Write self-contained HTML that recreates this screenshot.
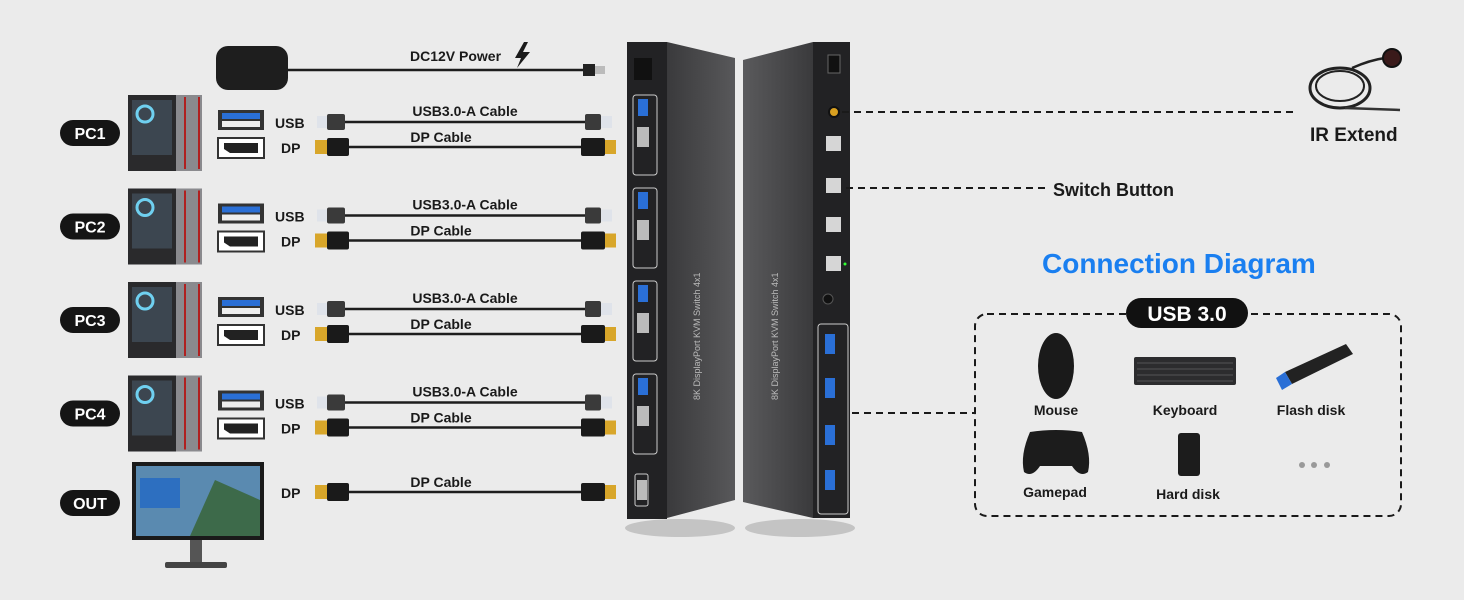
<!DOCTYPE html>
<html><head><meta charset="utf-8">
<style>
html,body{margin:0;padding:0;background:#ebebeb;}
svg{display:block;font-family:"Liberation Sans",sans-serif;}
.b{font-weight:bold;fill:#1a1a1a;}
</style></head>
<body>
<svg width="1464" height="600" viewBox="0 0 1464 600" xmlns="http://www.w3.org/2000/svg">
<defs>
 <linearGradient id="pan" x1="0" y1="0" x2="1" y2="0">
  <stop offset="0" stop-color="#3a3a3c"/><stop offset="1" stop-color="#58585a"/>
 </linearGradient>
 <linearGradient id="pan2" x1="0" y1="0" x2="1" y2="0">
  <stop offset="0" stop-color="#5a5a5c"/><stop offset="1" stop-color="#3a3a3c"/>
 </linearGradient>
 <g id="row">
  <rect x="60" y="120" width="60" height="26" rx="13" fill="#151515"/>
  <!-- tower -->
  <rect x="128" y="95" width="48" height="76" fill="#2a2a2c"/>
  <rect x="132" y="100" width="40" height="55" fill="#3c4650"/>
  <circle cx="145" cy="114" r="8" fill="none" stroke="#6fd0f0" stroke-width="3"/>
  <rect x="176" y="95" width="26" height="76" fill="#8a8a8e"/>
  <rect x="184" y="97" width="2" height="72" fill="#b02020"/>
  <rect x="198" y="97" width="2" height="72" fill="#b02020"/>
  <!-- ports -->
  <rect x="218" y="110" width="46" height="20" fill="#333"/>
  <rect x="222" y="113" width="38" height="6" fill="#2a6fd6"/>
  <rect x="222" y="121" width="38" height="6" fill="#eee"/>
  <rect x="218" y="138" width="46" height="20" fill="#fff" stroke="#333" stroke-width="2"/>
  <path d="M224 143 H258 V153 H230 L224 149 Z" fill="#222"/>
  <text x="275" y="128" class="b" font-size="14">USB</text>
  <text x="281" y="153" class="b" font-size="14">DP</text>
  <!-- usb cable -->
  <rect x="317" y="116" width="10" height="12" fill="#dfe3ea"/>
  <rect x="327" y="114" width="18" height="16" rx="2" fill="#3a3a3a"/>
  <line x1="345" y1="122" x2="587" y2="122" stroke="#1d1d1d" stroke-width="2.5"/>
  <rect x="585" y="114" width="16" height="16" rx="2" fill="#3a3a3a"/>
  <rect x="601" y="116" width="11" height="12" fill="#dfe3ea"/>
  <!-- dp cable -->
  <rect x="315" y="140" width="12" height="14" fill="#d8a62a"/>
  <rect x="327" y="138" width="22" height="18" rx="2" fill="#1a1a1a"/>
  <line x1="349" y1="147" x2="583" y2="147" stroke="#1d1d1d" stroke-width="2.5"/>
  <rect x="581" y="138" width="24" height="18" rx="2" fill="#1a1a1a"/>
  <rect x="605" y="140" width="11" height="14" fill="#d8a62a"/>
  <text x="465" y="116" class="b" font-size="14" text-anchor="middle">USB3.0-A Cable</text>
  <text x="441" y="142" class="b" font-size="14" text-anchor="middle">DP Cable</text>
 </g>
</defs>

<!-- power -->
<rect x="216" y="46" width="72" height="44" rx="12" fill="#1e1e1e"/>
<line x1="288" y1="70" x2="585" y2="70" stroke="#1d1d1d" stroke-width="2.5"/>
<rect x="583" y="64" width="12" height="12" fill="#222"/>
<rect x="595" y="66" width="10" height="8" fill="#bbb"/>
<text x="410" y="61" class="b" font-size="14">DC12V Power</text>
<path d="M524 42 L515 58 L521 58 L517 68 L530 52 L523 52 L528 42 Z" fill="#1a1a1a"/>

<use href="#row"/>
<use href="#row" transform="translate(0,93.5)"/>
<use href="#row" transform="translate(0,187)"/>
<use href="#row" transform="translate(0,280.5)"/>
<text x="90" y="139" font-size="16" font-weight="bold" fill="#fff" text-anchor="middle">PC1</text>
<text x="90" y="232.5" font-size="16" font-weight="bold" fill="#fff" text-anchor="middle">PC2</text>
<text x="90" y="326" font-size="16" font-weight="bold" fill="#fff" text-anchor="middle">PC3</text>
<text x="90" y="419.5" font-size="16" font-weight="bold" fill="#fff" text-anchor="middle">PC4</text>

<!-- OUT -->
<rect x="60" y="490" width="60" height="26" rx="13" fill="#151515"/>
<text x="90" y="509" font-size="16" font-weight="bold" fill="#fff" text-anchor="middle">OUT</text>
<rect x="132" y="462" width="132" height="78" fill="#1a1a1a"/>
<rect x="136" y="466" width="124" height="70" fill="#5a8ab0"/>
<path d="M190 536 L215 480 L260 500 L260 536 Z" fill="#3d6a4a"/>
<rect x="140" y="478" width="40" height="30" fill="#2d6fc0"/>
<rect x="190" y="540" width="12" height="22" fill="#555"/>
<rect x="165" y="562" width="62" height="6" rx="2" fill="#444"/>
<text x="281" y="498" class="b" font-size="14">DP</text>
<rect x="315" y="485" width="12" height="14" fill="#d8a62a"/>
<rect x="327" y="483" width="22" height="18" rx="2" fill="#1a1a1a"/>
<line x1="349" y1="492" x2="583" y2="492" stroke="#1d1d1d" stroke-width="2.5"/>
<rect x="581" y="483" width="24" height="18" rx="2" fill="#1a1a1a"/>
<rect x="605" y="485" width="11" height="14" fill="#d8a62a"/>
<text x="441" y="487" class="b" font-size="14" text-anchor="middle">DP Cable</text>

<!-- shadows -->
<ellipse cx="680" cy="528" rx="55" ry="9" fill="#aaa" opacity="0.6"/>
<ellipse cx="800" cy="528" rx="55" ry="9" fill="#aaa" opacity="0.6"/>

<!-- device 1 -->
<polygon points="667,42 735,58 735,500 667,518" fill="url(#pan)"/>
<rect x="627" y="42" width="40" height="477" fill="#222224"/>
<rect x="634" y="58" width="18" height="22" fill="#111"/>
<g fill="none" stroke="#ccc" stroke-width="1">
 <rect x="633" y="95" width="24" height="80" rx="3"/>
 <rect x="633" y="188" width="24" height="80" rx="3"/>
 <rect x="633" y="281" width="24" height="80" rx="3"/>
 <rect x="633" y="374" width="24" height="80" rx="3"/>
 <rect x="635" y="474" width="13" height="32" rx="2"/>
</g>
<g fill="#2a6fd6">
 <rect x="638" y="99" width="10" height="17"/><rect x="638" y="192" width="10" height="17"/>
 <rect x="638" y="285" width="10" height="17"/><rect x="638" y="378" width="10" height="17"/>
</g>
<g fill="#bbb">
 <rect x="637" y="127" width="12" height="20"/><rect x="637" y="220" width="12" height="20"/>
 <rect x="637" y="313" width="12" height="20"/><rect x="637" y="406" width="12" height="20"/>
 <rect x="637" y="480" width="10" height="20"/>
</g>
<text transform="translate(700,400) rotate(-90)" font-size="9" fill="#bbb">8K DisplayPort KVM Switch 4x1</text>
<!-- device 2 -->
<polygon points="743,60 813,42 813,518 743,502" fill="url(#pan2)"/>
<rect x="813" y="42" width="37" height="476" fill="#222224"/>
<rect x="828" y="55" width="12" height="18" fill="#111" stroke="#666"/>
<circle cx="834" cy="112" r="5" fill="#d9a020" stroke="#111" stroke-width="2"/>
<g fill="#d6d6d6">
 <rect x="826" y="136" width="15" height="15"/><rect x="826" y="178" width="15" height="15"/>
 <rect x="826" y="217" width="15" height="15"/><rect x="826" y="256" width="15" height="15"/>
</g>
<circle cx="845" cy="264" r="1.5" fill="#3f3"/>
<circle cx="828" cy="299" r="5" fill="#111" stroke="#555"/>
<rect x="818" y="324" width="30" height="190" rx="3" fill="none" stroke="#ccc"/>
<g fill="#2a6fd6">
 <rect x="825" y="334" width="10" height="20"/><rect x="825" y="378" width="10" height="20"/>
 <rect x="825" y="425" width="10" height="20"/><rect x="825" y="470" width="10" height="20"/>
</g>
<text transform="translate(778,400) rotate(-90)" font-size="9" fill="#bbb">8K DisplayPort KVM Switch 4x1</text>

<!-- dashed lines -->
<g stroke="#1a1a1a" stroke-width="2" stroke-dasharray="7,5" fill="none">
 <line x1="842" y1="112" x2="1298" y2="112"/>
 <line x1="846" y1="188" x2="1045" y2="188"/>
 <line x1="852" y1="413" x2="975" y2="413"/>
 <rect x="975" y="314" width="426" height="202" rx="12"/>
</g>

<!-- IR -->
<ellipse cx="1340" cy="88" rx="30" ry="20" fill="none" stroke="#222" stroke-width="3"/>
<ellipse cx="1340" cy="86" rx="24" ry="15" fill="none" stroke="#222" stroke-width="2"/>
<path d="M1352 68 Q1370 60 1385 58" stroke="#222" stroke-width="2.5" fill="none"/>
<circle cx="1392" cy="58" r="9" fill="#3a1a1a" stroke="#111" stroke-width="2"/>
<line x1="1345" y1="108" x2="1400" y2="110" stroke="#333" stroke-width="2.5"/>
<text x="1310" y="141" class="b" font-size="19">IR Extend</text>
<text x="1053" y="196" class="b" font-size="18">Switch Button</text>

<text x="1042" y="273" font-size="28" font-weight="bold" fill="#1a7ff0">Connection Diagram</text>
<rect x="1126" y="298" width="122" height="30" rx="15" fill="#111"/>
<text x="1187" y="321" font-size="21" font-weight="bold" fill="#fff" text-anchor="middle">USB 3.0</text>

<!-- devices -->
<ellipse cx="1056" cy="366" rx="18" ry="33" fill="#1a1a1a"/>
<text x="1056" y="415" class="b" font-size="14" text-anchor="middle">Mouse</text>
<rect x="1134" y="357" width="102" height="28" rx="2" fill="#2c2c2e"/>
<g stroke="#555" stroke-width="1">
 <line x1="1137" y1="363" x2="1233" y2="363"/><line x1="1137" y1="369" x2="1233" y2="369"/>
 <line x1="1137" y1="375" x2="1233" y2="375"/><line x1="1137" y1="381" x2="1233" y2="381"/>
</g>
<text x="1185" y="415" class="b" font-size="14" text-anchor="middle">Keyboard</text>
<polygon points="1285,372 1346,344 1353,354 1292,384" fill="#222"/>
<polygon points="1276,378 1285,372 1292,384 1282,390" fill="#2a6fd6"/>
<text x="1311" y="415" class="b" font-size="14" text-anchor="middle">Flash disk</text>
<path d="M1030 432 Q1056 428 1082 432 Q1092 455 1088 472 Q1080 478 1072 466 L1040 466 Q1032 478 1024 472 Q1020 455 1030 432 Z" fill="#1c1c1c"/>
<text x="1055" y="497" class="b" font-size="14" text-anchor="middle">Gamepad</text>
<rect x="1178" y="433" width="22" height="43" rx="3" fill="#1c1c1c"/>
<text x="1188" y="499" class="b" font-size="14" text-anchor="middle">Hard disk</text>
<g fill="#999"><circle cx="1302" cy="465" r="3"/><circle cx="1314" cy="465" r="3"/><circle cx="1327" cy="465" r="3"/></g>
</svg>
</body></html>
